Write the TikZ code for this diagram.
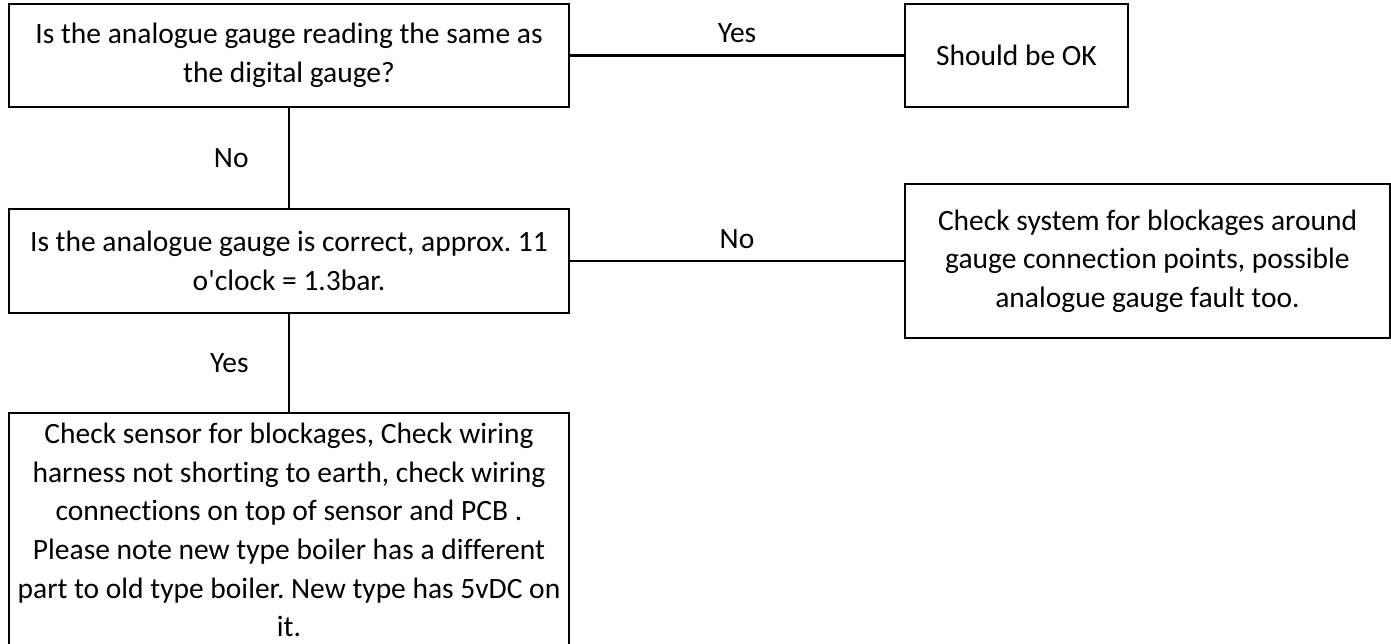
\documentclass[tikz,border=0pt]{standalone}
\usepackage{fontspec}
\setmainfont{Carlito}[RawFeature={-liga;-clig;-calt;-dlig}]
\usetikzlibrary{positioning}
\frenchspacing

\begin{document}
\begin{tikzpicture}[x=1pt, y=-1pt, node distance=102pt and 336pt, every node/.style={font=\fontsize{29.5}{38.6}\selectfont},
  box/.style={draw, line width=2.2pt, inner sep=0pt, outer sep=0pt, align=center, minimum width=560pt},
  link/.style={line width=2.2pt}]
\useasboundingbox (0,0) rectangle (1391,643);
\node (same) [box, minimum height=103pt] at (289,55.5) {Is the analogue gauge reading the same as\\the digital gauge?};
\node (ok) [box, right=of same, minimum width=223pt, minimum height=103pt] {Should be OK};
\node (correct) [box, below=of same, minimum height=104pt] {Is the analogue gauge is correct, approx. 11\\o\textquotesingle clock = 1.3bar.};
\node (fault) [box, right=of correct, minimum width=485pt, minimum height=154pt] {Check system for blockages around\\gauge connection points, possible\\analogue gauge fault too.};
\node (sensor) [box, below=100pt of correct, minimum height=234pt] {Check sensor for blockages, Check wiring\\harness not shorting to earth, check wiring\\connections on top of sensor and PCB .\\Please note new type boiler has a different\\part to old type boiler. New type has 5vDC on\\it.};
\draw[link] (same) -- node[above=8pt] {Yes} (ok);
\draw[link] (same) -- node[left=36pt] {No} (correct);
\draw[link] (correct) -- node[above=8pt] {No} (fault);
\draw[link] (correct) -- node[left=36pt] {Yes} (sensor);
\end{tikzpicture}
\end{document}
